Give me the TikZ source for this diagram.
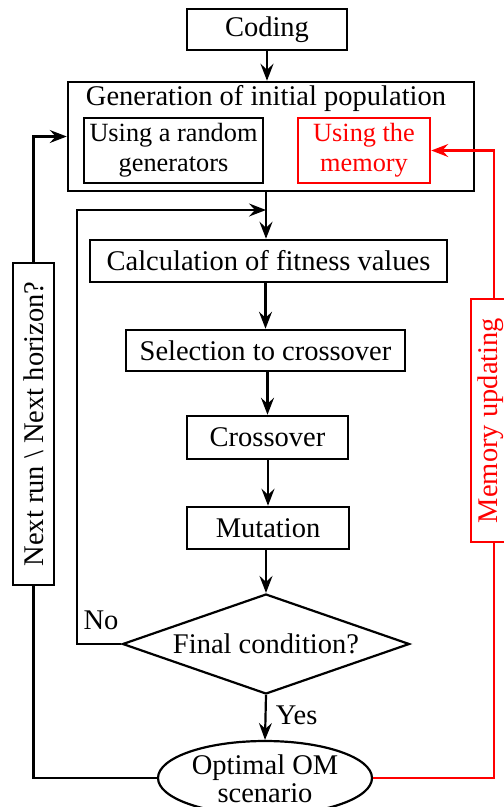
\documentclass[tikz,border=0pt]{standalone}
\usepackage{fontspec}
\setmainfont{Liberation Serif}
\usetikzlibrary{shapes.geometric,arrows.meta}
\definecolor{memred}{RGB}{255,0,0}
\tikzset{
  every node/.style={font=\fontsize{28.5}{30}\selectfont},
  innertext/.style={font=\fontsize{26.3}{30}\selectfont, align=center},
  box/.style={draw, line width=2.5pt, rectangle, inner sep=0pt},
  conn/.style={line width=2.2pt},
  arr/.style={conn, -{Stealth[length=17pt,width=13pt,inset=6pt]}},
  redbox/.style={box, draw=memred, text=memred},
}
\begin{document}
\begin{tikzpicture}[x=1pt,y=-1pt]
\fill[white] (0,0) rectangle (504,807);
\useasboundingbox (0,0) rectangle (504,807);

\node[box, minimum width=160, minimum height=41] (coding) at (267,29.5) {Coding};
\node[box, minimum width=406, minimum height=109] (gen) at (271,136.5) {};
\node (gentitle) at (266,98) {Generation of initial population};
\node[box, innertext, minimum width=179, minimum height=65] (rand) at (173.5,150.5) {Using a random\\generators};
\node[redbox, innertext, minimum width=132, minimum height=65] (mem) at (364,150.5) {Using the\\memory};

\node[box, minimum width=357, minimum height=42] (fit) at (268.5,261) {Calculation of fitness values};
\node[box, minimum width=279, minimum height=41] (sel) at (265.5,350.5) {Selection to crossover};
\node[box, minimum width=161, minimum height=43] (cross) at (267.5,437.5) {Crossover};
\node[box, minimum width=162, minimum height=42] (mut) at (268,528) {Mutation};

\node[diamond, draw, line width=2.2pt, minimum width=287, minimum height=100, inner sep=0pt] (cond) at (266,644) {};
\node (condtext) at (cond) {Final condition?};

\node[ellipse, draw, line width=2.2pt, minimum width=214, minimum height=74, inner sep=0pt] (ell) at (265,778) {};
\node[align=center, font=\fontsize{28.5}{28}\selectfont] (elltext) at (265,779) {Optimal OM\\scenario};

\node[box, rotate=90, minimum width=322, minimum height=41] (next) at (33.5,424) {Next run \textbackslash{} Next horizon?};
\node[box, draw=memred, rotate=90, minimum width=243, minimum height=46] (memupd) at (494,420.5) {};
\node[rotate=90, text=memred] (memtext) at (491,420.5) {Memory updating};

\coordinate (noc) at (77,210);
\coordinate (merge) at (266,210);

\draw[arr] (coding) -- (coding.south |- gen.north);
\draw[conn] (gen.south -| merge) -- (merge);
\draw[arr] (merge) -- (merge |- fit.north);
\draw[arr] (fit.south -| sel.north) -- (sel.north);
\draw[arr] (sel.south -| cross.north) -- (cross.north);
\draw[arr] (cross.south -| mut.north) -- (mut.north);
\draw[arr] (mut.south -| cond.north) -- (cond.north);
\draw[arr] (cond.south) -- (ell.north) node[pos=0.45, right=6pt] (yes) {Yes};
\draw[arr] (cond.west) -| (noc) -- (merge);
\node (no) at (101,620) {No};

\draw[conn] (ell.west) -| (next);
\draw[arr] (next) |- (gen.west);

\draw[conn, memred] (ell.east) -| (memupd);
\draw[arr, memred] (memupd) |- (mem.east);
\end{tikzpicture}
\end{document}
